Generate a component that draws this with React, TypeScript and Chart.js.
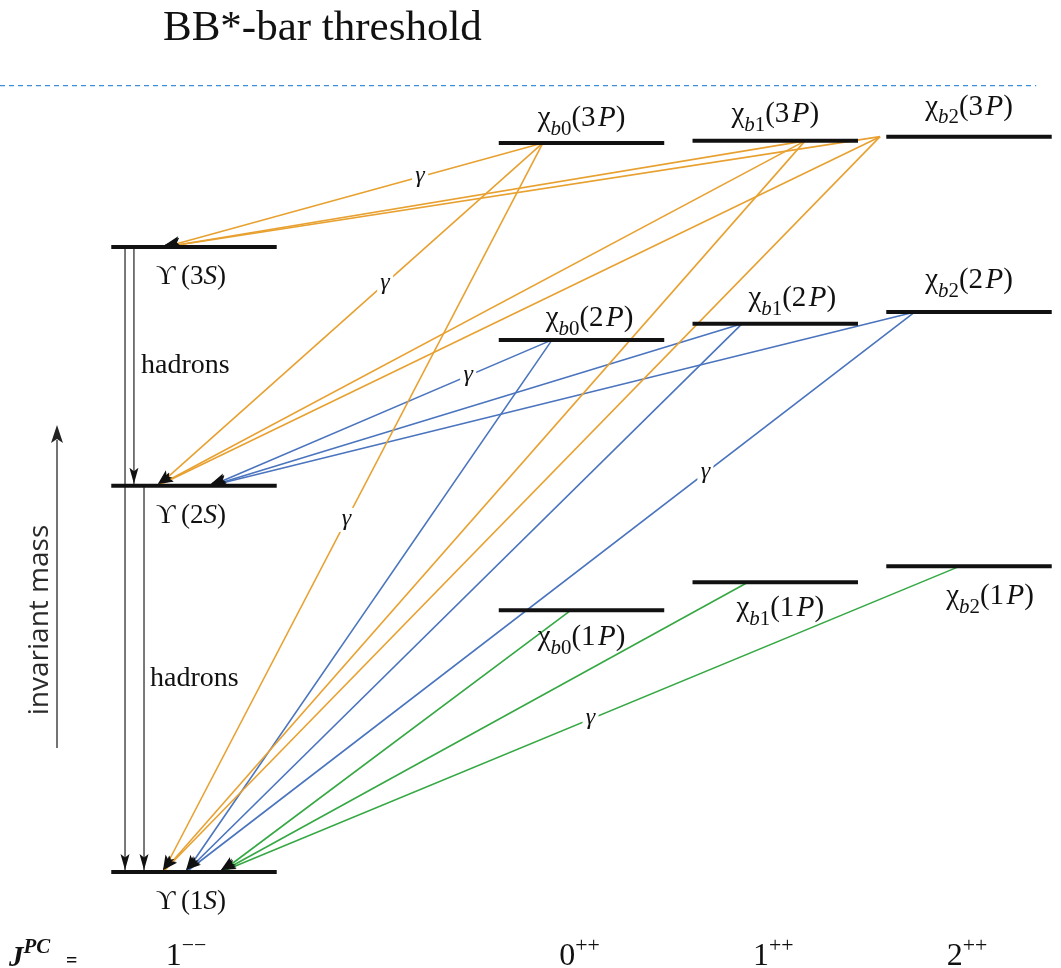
import { useEffect, useRef } from "react";
import { Chart, registerables } from "chart.js";

Chart.register(...registerables);

const W = 1061;
const H = 968;

// J^PC of each column and its position on the x axis (column units)
const columnJpc = ["1", "0", "1", "2"];
const columnJpcSup = ["\u2212\u2212", "++", "++", "++"];
const columnX = [0, 2, 3, 4];

// Bottomonium levels: column and invariant mass (MeV) as drawn
const levelKeys = ["1S", "2S", "3S", "0_1P", "1_1P", "2_1P", "0_2P", "1_2P", "2_2P", "0_3P", "1_3P", "2_3P"];
const levelColumn = [0, 0, 0, 1, 2, 3, 1, 2, 3, 1, 2, 3];
const levelMass = [9460, 10013, 10355, 9835, 9875, 9898, 10222, 10245, 10262, 10504, 10507, 10513];
const thresholdMass = 10586;
const thresholdLabel = "BB*-bar threshold";

// Radiative (E1) transitions chi_bJ(nP) -> Upsilon(mS) + gamma
const photonFrom = ["0_3P", "1_3P", "2_3P", "0_3P", "1_3P", "2_3P", "0_3P", "1_3P", "2_3P", "0_2P", "1_2P", "2_2P", "0_2P", "1_2P", "2_2P", "0_1P", "1_1P", "2_1P"];
const photonTo = ["3S", "3S", "3S", "2S", "2S", "2S", "1S", "1S", "1S", "2S", "2S", "2S", "1S", "1S", "1S", "1S", "1S", "1S"];

// Transitions that carry a gamma tag, and where along the line it sits
const gammaFrom = ["0_3P", "0_3P", "0_3P", "0_2P", "2_2P", "2_1P"];
const gammaTo = ["3S", "2S", "1S", "2S", "1S", "1S"];
const gammaAt = [0.325, 0.41, 0.517, 0.246, 0.2875, 0.5];

// Hadronic transitions between Upsilon states
const hadronFrom = ["3S", "3S", "2S"];
const hadronTo = ["1S", "2S", "1S"];
const hadronLabelFrom = ["3S", "2S"];

// ---- layout / style ----
const X_MIN = -1.00129;
const X_MAX = 4.47484;
const Y_MIN = 9322.53;
const Y_MAX = 10708.7;
const LEVEL_HALF = 0.427;

// where the photon lines leave each chi level (offset from column centre)
const emitOffset: Record<string, number> = {
  "0_3P": -0.199, "1_3P": 0.154, "2_3P": -0.459,
  "0_2P": -0.152, "1_2P": -0.172, "2_2P": -0.279,
  "0_1P": -0.054, "1_1P": -0.141, "2_1P": -0.046,
};
// where the arrows land on the Upsilon levels, by source multiplet
const arriveOffset: Record<string, Record<string, number>> = {
  "3S": { "3P": -0.15 },
  "2S": { "3P": -0.186, "2P": 0.088 },
  "1S": { "3P": -0.16, "2P": -0.041, "1P": 0.139 },
};
const hadronOffset = [-0.356, -0.31, -0.258];

const multipletColor: Record<string, string> = {
  "3P": "#E8A130",
  "2P": "#4A74BE",
  "1P": "#35A844",
};

// label placement in pixels: [dx from level centre, baseline dy from level]
const labelPlace: Record<string, [number, number]> = {
  "1S": [-3, 37], "2S": [-3, 37], "3S": [-3, 37],
  "0_3P": [0, -17], "1_3P": [0, -19], "2_3P": [0, -22],
  "0_2P": [8, -14], "1_2P": [17, -18], "2_2P": [0, -24],
  "0_1P": [0, 35], "1_1P": [5, 34], "2_1P": [21, 38],
};

const SERIF = '"Liberation Serif", "DejaVu Serif", "Times New Roman", serif';
const SANS = '"Open Sans", "DejaVu Sans", sans-serif';

type Run = { t: string; italic?: boolean; bold?: boolean; scale?: number; shift?: number };

function drawRuns(
  ctx: CanvasRenderingContext2D,
  runs: Run[],
  x: number,
  y: number,
  size: number,
  family: string,
  align: "left" | "center",
  color = "#111"
) {
  const fontOf = (r: Run) =>
    `${r.italic ? "italic " : ""}${r.bold ? "bold " : ""}${(size * (r.scale ?? 1)).toFixed(1)}px ${family}`;
  let w = 0;
  for (const r of runs) {
    ctx.font = fontOf(r);
    w += ctx.measureText(r.t).width;
  }
  let cx = align === "center" ? x - w / 2 : x;
  ctx.fillStyle = color;
  ctx.textBaseline = "alphabetic";
  ctx.textAlign = "left";
  for (const r of runs) {
    ctx.font = fontOf(r);
    ctx.fillText(r.t, cx, y + (r.shift ?? 0) * size);
    cx += ctx.measureText(r.t).width;
  }
}

function levelRuns(key: string): Run[] {
  if (key.endsWith("S")) {
    return [{ t: "\u03D2" }, { t: "\u2009(" + key[0] }, { t: "S", italic: true }, { t: ")" }];
  }
  const j = key[0];
  const n = key[2];
  return [
    { t: "\u03C7" },
    { t: "b", italic: true, scale: 0.72, shift: 0.3 },
    { t: j, scale: 0.72, shift: 0.3 },
    { t: "(" + n + "\u200A" },
    { t: "P", italic: true },
    { t: ")" },
  ];
}

function drawHead(
  ctx: CanvasRenderingContext2D,
  x0: number, y0: number, x1: number, y1: number,
  len: number, half: number, color: string
) {
  const a = Math.atan2(y1 - y0, x1 - x0);
  const c = Math.cos(a);
  const s = Math.sin(a);
  const bx = x1 - len * c;
  const by = y1 - len * s;
  const nx = x1 - len * 0.78 * c;
  const ny = y1 - len * 0.78 * s;
  ctx.beginPath();
  ctx.moveTo(x1, y1);
  ctx.lineTo(bx + half * s, by - half * c);
  ctx.lineTo(nx, ny);
  ctx.lineTo(bx - half * s, by + half * c);
  ctx.closePath();
  ctx.fillStyle = color;
  ctx.fill();
}

const idx = (k: string) => levelKeys.indexOf(k);
const colOf = (k: string) => columnX[levelColumn[idx(k)]];
const massOf = (k: string) => levelMass[idx(k)];
const multiplet = (k: string) => k.slice(2);

function photonEnds(from: string, to: string) {
  return [
    { x: colOf(from) + emitOffset[from], y: massOf(from) },
    { x: colOf(to) + arriveOffset[to][multiplet(from)], y: massOf(to) },
  ];
}

const schemePlugin = {
  id: "levelScheme",
  afterDatasetsDraw(chart: Chart) {
    const ctx = chart.ctx;
    const xs = chart.scales.x;
    const ys = chart.scales.y;
    const px = (v: number) => xs.getPixelForValue(v);
    const py = (v: number) => ys.getPixelForValue(v);
    ctx.save();

    // threshold caption
    ctx.font = `43px ${SERIF}`;
    ctx.fillStyle = "#111";
    ctx.textAlign = "left";
    ctx.textBaseline = "alphabetic";
    ctx.fillText(thresholdLabel, 163, py(thresholdMass) - 46);

    // gamma tags with a gap in the line
    for (let i = 0; i < gammaFrom.length; i++) {
      const [a, b] = photonEnds(gammaFrom[i], gammaTo[i]);
      const x0 = px(a.x), y0 = py(a.y), x1 = px(b.x), y1 = py(b.y);
      const t = gammaAt[i];
      const gx = x0 + (x1 - x0) * t;
      const gy = y0 + (y1 - y0) * t;
      ctx.fillStyle = "#ffffff";
      ctx.fillRect(gx - 8, gy - 12, 16, 24);
      ctx.font = `italic 24px ${SERIF}`;
      ctx.fillStyle = "#111";
      ctx.textAlign = "center";
      ctx.textBaseline = "middle";
      ctx.fillText("\u03B3", gx, gy - 1);
    }

    // arrowheads of the radiative transitions
    for (let i = 0; i < photonFrom.length; i++) {
      const [a, b] = photonEnds(photonFrom[i], photonTo[i]);
      drawHead(ctx, px(a.x), py(a.y), px(b.x), py(b.y) - 2, 15, 5, "#111");
    }

    // hadronic transitions
    for (let i = 0; i < hadronFrom.length; i++) {
      const xv = columnX[0] + hadronOffset[i];
      drawHead(ctx, px(xv), py(massOf(hadronFrom[i])), px(xv), py(massOf(hadronTo[i])) - 2, 16, 4.5, "#111");
    }
    ctx.font = `28px ${SERIF}`;
    ctx.fillStyle = "#111";
    ctx.textAlign = "left";
    ctx.textBaseline = "alphabetic";
    for (let i = 0; i < hadronLabelFrom.length; i++) {
      const k = hadronLabelFrom[i];
      const next = levelMass.filter((m, j) => levelColumn[j] === 0 && m < massOf(k));
      const mid = (massOf(k) + Math.max(...next)) / 2;
      const xl = i === 0 ? 141 : 150;
      ctx.fillText("hadrons", xl, py(mid) + 7);
    }

    // level labels
    for (const k of levelKeys) {
      const [dx, dy] = labelPlace[k];
      const cx = px(colOf(k)) + dx;
      const size = k.endsWith("S") ? 27 : 29;
      drawRuns(ctx, levelRuns(k), cx, py(massOf(k)) + dy, size, SERIF, "center");
    }

    // J^PC row
    drawRuns(
      ctx,
      [{ t: "J", italic: true, bold: true }, { t: "PC", italic: true, bold: true, scale: 0.72, shift: -0.45 }],
      9, 966, 29, SERIF, "left"
    );
    ctx.font = `bold 20px ${SERIF}`;
    ctx.fillStyle = "#111";
    ctx.textAlign = "left";
    ctx.fillText("=", 66, 967);
    for (let c = 0; c < columnX.length; c++) {
      const dx = c === 0 ? -8 : -2;
      drawRuns(
        ctx,
        [{ t: columnJpc[c] }, { t: columnJpcSup[c], scale: 0.68, shift: -0.42 }],
        px(columnX[c]) + dx, 965, 32, SERIF, "center"
      );
    }

    // invariant mass arrow
    ctx.strokeStyle = "#444";
    ctx.lineWidth = 1.5;
    ctx.beginPath();
    ctx.moveTo(57, 748);
    ctx.lineTo(57, 440);
    ctx.stroke();
    drawHead(ctx, 57, 748, 57, 425, 18, 6, "#222");
    ctx.save();
    ctx.translate(48, 620);
    ctx.rotate(-Math.PI / 2);
    ctx.font = `28px ${SANS}`;
    ctx.fillStyle = "#2a2a2a";
    ctx.textAlign = "center";
    ctx.textBaseline = "alphabetic";
    ctx.fillText("invariant mass", 0, 0);
    ctx.restore();

    ctx.restore();
  },
};

export default function App() {
  const ref = useRef<HTMLCanvasElement | null>(null);

  useEffect(() => {
    if (!ref.current) return;
    const datasets: any[] = [];

    // levels
    for (const k of levelKeys) {
      datasets.push({
        data: [
          { x: colOf(k) - LEVEL_HALF, y: massOf(k) },
          { x: colOf(k) + LEVEL_HALF, y: massOf(k) },
        ],
        showLine: true,
        borderColor: "#111",
        borderWidth: 4,
        borderCapStyle: "butt",
        pointRadius: 0,
        order: 0,
      });
    }

    // threshold
    datasets.push({
      data: [
        { x: X_MIN, y: thresholdMass },
        { x: columnX[3] + LEVEL_HALF - 0.08, y: thresholdMass },
      ],
      showLine: true,
      borderColor: "#3D8FDB",
      borderWidth: 1.3,
      borderDash: [5, 4],
      pointRadius: 0,
      order: 2,
    });

    // radiative transitions
    for (let i = 0; i < photonFrom.length; i++) {
      datasets.push({
        data: photonEnds(photonFrom[i], photonTo[i]),
        showLine: true,
        borderColor: multipletColor[multiplet(photonFrom[i])],
        borderWidth: 1.6,
        pointRadius: 0,
        order: 1,
      });
    }

    // hadronic transitions
    for (let i = 0; i < hadronFrom.length; i++) {
      const xv = columnX[0] + hadronOffset[i];
      datasets.push({
        data: [
          { x: xv, y: massOf(hadronFrom[i]) },
          { x: xv, y: massOf(hadronTo[i]) },
        ],
        showLine: true,
        borderColor: "#222",
        borderWidth: 1.2,
        pointRadius: 0,
        order: 1,
      });
    }

    const chart = new Chart(ref.current, {
      type: "scatter",
      data: { datasets },
      options: {
        animation: false,
        responsive: false,
        events: [],
        layout: { padding: 0 },
        plugins: { legend: { display: false }, tooltip: { enabled: false } },
        scales: {
          x: { type: "linear", display: false, min: X_MIN, max: X_MAX },
          y: { type: "linear", display: false, min: Y_MIN, max: Y_MAX },
        },
      },
      plugins: [schemePlugin],
    });
    return () => chart.destroy();
  }, []);

  return (
    <div style={{ position: "absolute", left: 0, top: 0, width: W, height: H, background: "#fff" }}>
      <canvas ref={ref} width={W} height={H} style={{ display: "block" }} />
    </div>
  );
}
